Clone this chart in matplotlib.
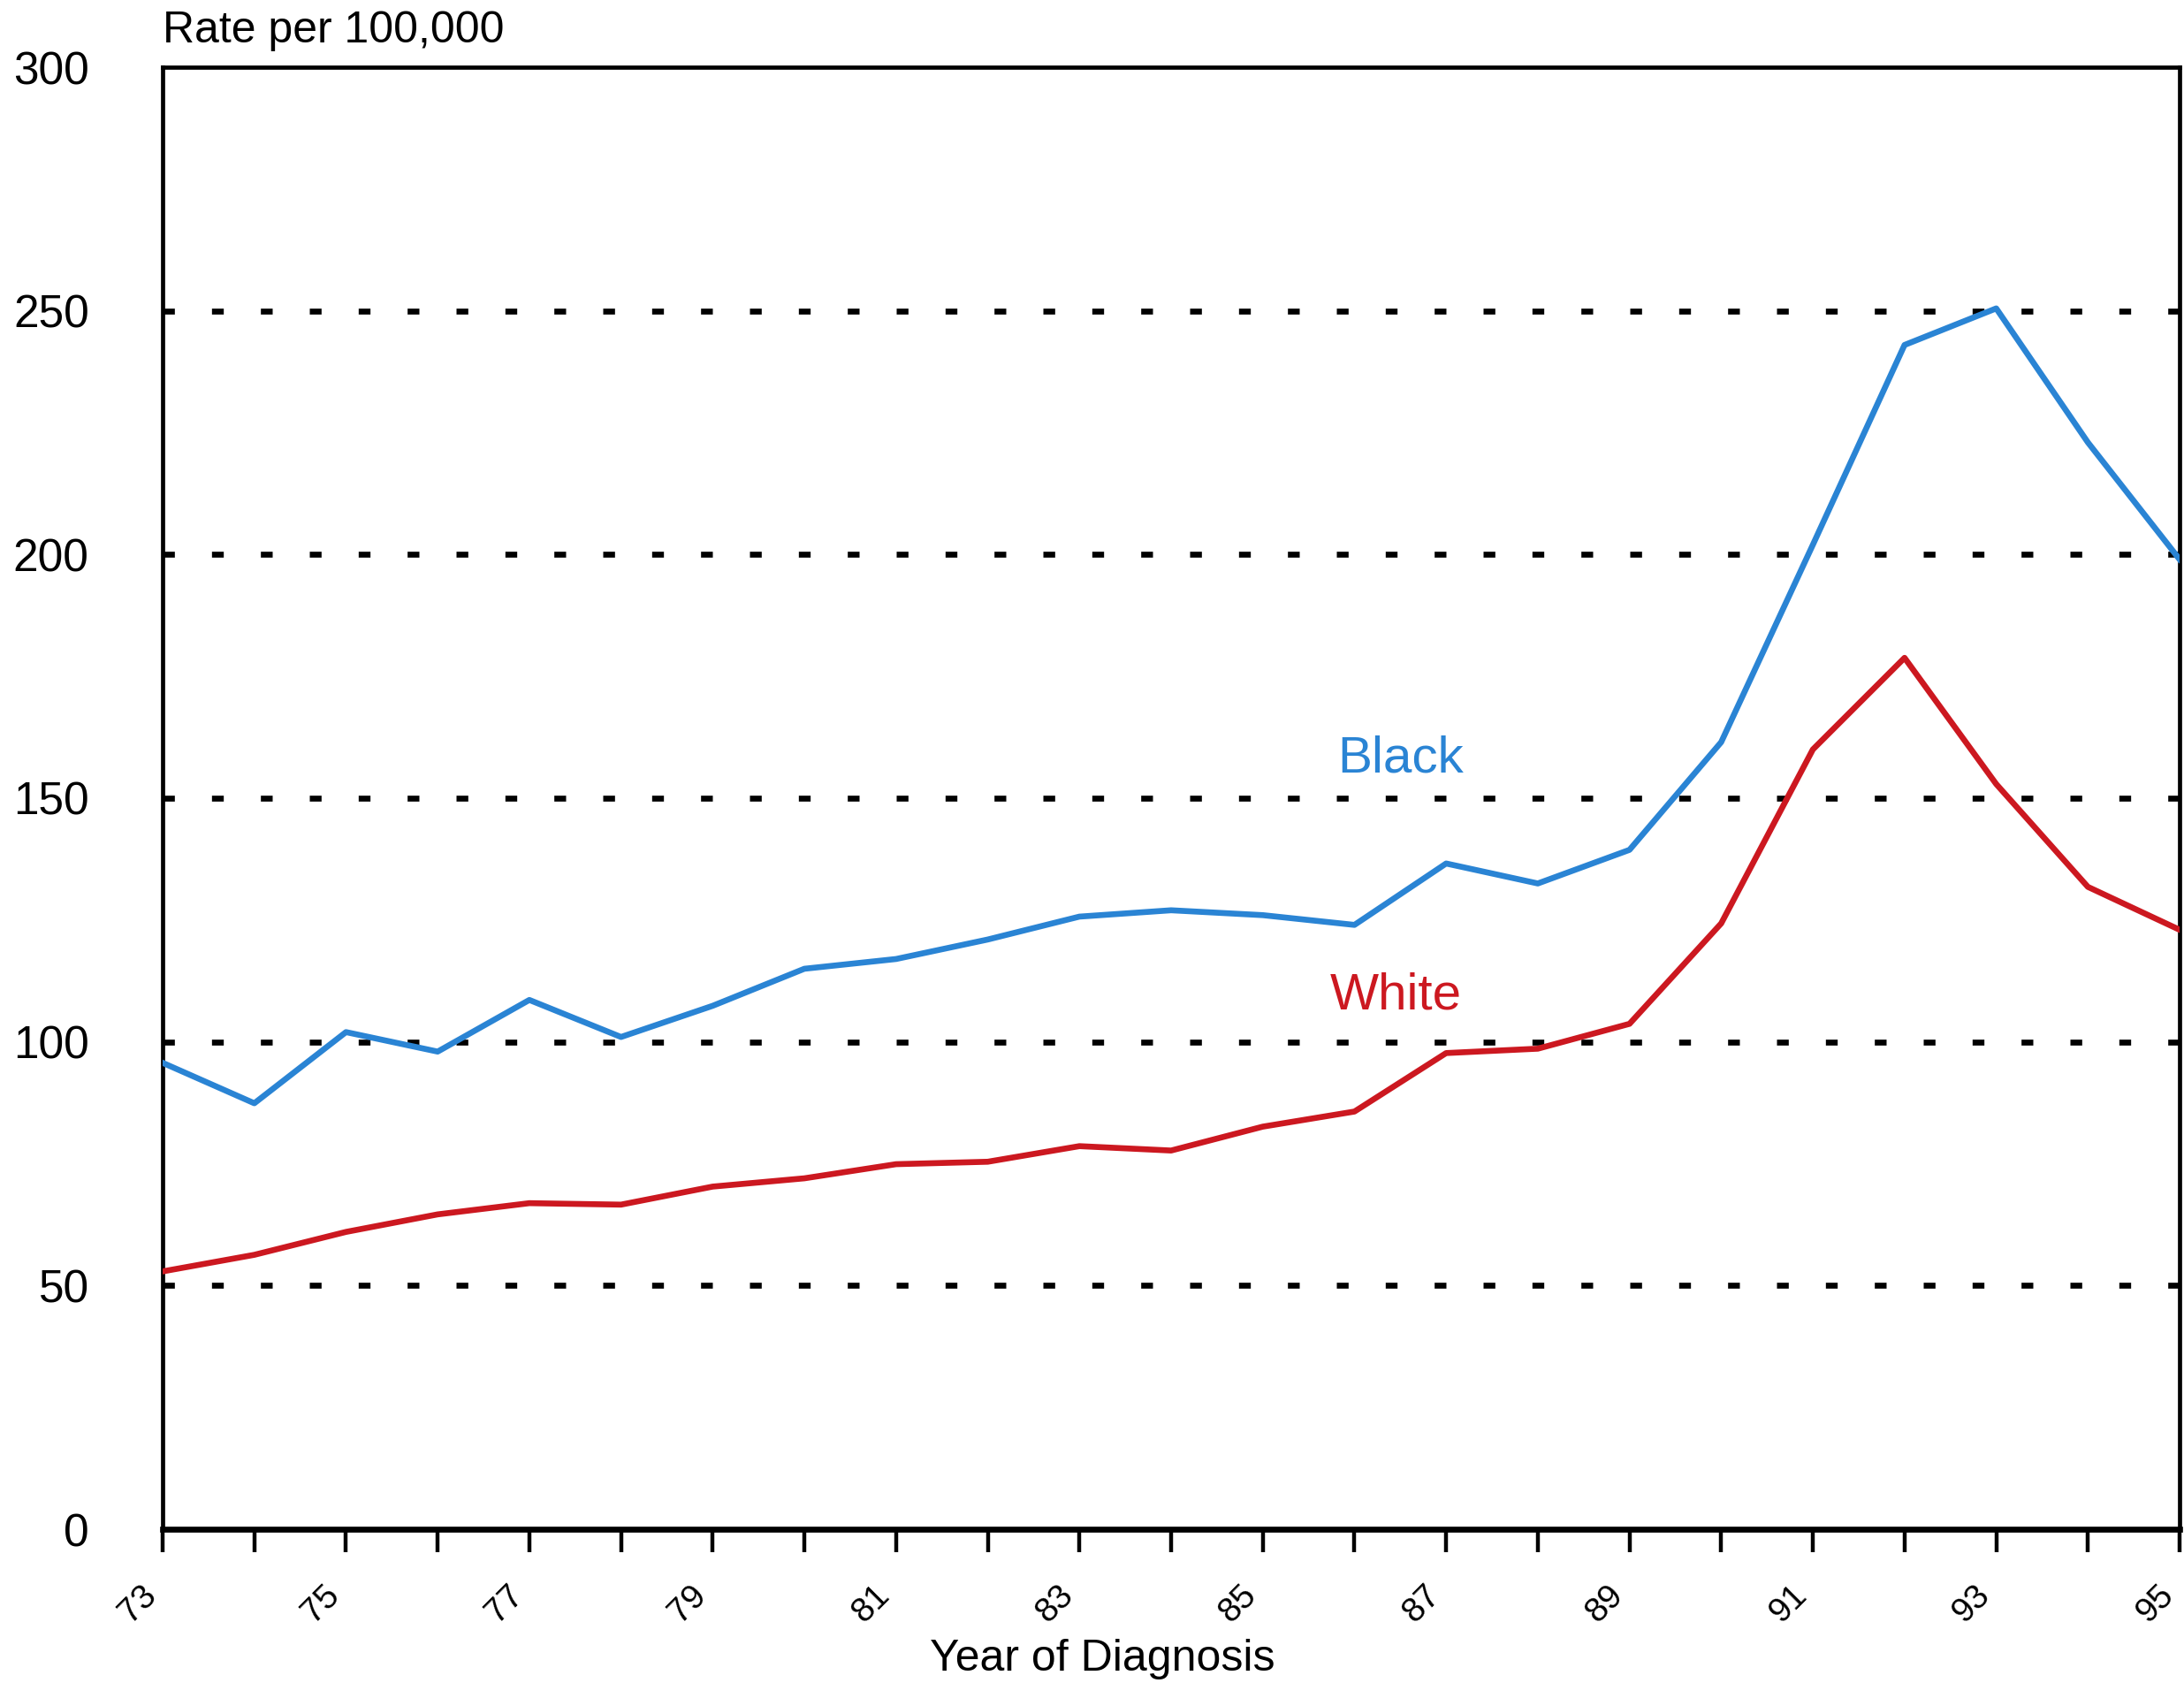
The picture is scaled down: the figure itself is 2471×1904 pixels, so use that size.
import numpy as np
import matplotlib.pyplot as plt

# year of diagnosis (19xx) and incidence rate per 100,000
years = np.arange(73, 96)
black = [95.7, 87.4, 102, 98, 108.6, 101, 107.4, 115, 117, 121, 125.7, 127, 126, 124,
         136.6, 132.5, 139.4, 161.5, 202, 243, 250.5, 223, 199]
white = [52.9, 56.3, 61, 64.6, 66.9, 66.6, 70.3, 72, 74.9, 75.4, 78.6, 77.7, 82.6, 85.7,
         97.7, 98.6, 103.7, 124.3, 160, 178.8, 152.9, 131.8, 123]
yticks = [0, 50, 100, 150, 200, 250, 300]

blue = '#2a84d4'
red = '#cc1820'
narrow = ['Liberation Sans Narrow', 'Liberation Sans', 'DejaVu Sans']

plt.rcParams['font.family'] = ['Liberation Sans', 'DejaVu Sans']

fig = plt.figure(figsize=(24.71, 19.04), dpi=100)
ax = fig.add_axes([184 / 2471, 1 - 1730 / 1904, (2466 - 184) / 2471, (1730 - 76) / 1904])

# dotted reference lines
for y in yticks[1:-1]:
    ax.axhline(y, color='black', lw=4.8, linestyle=(0, (2.0, 6.3)), zorder=1)

ax.plot(years, black, color=blue, lw=4.8, zorder=3)
ax.plot(years, white, color=red, lw=4.8, zorder=3)

ax.text(86.5, 158, 'Black', color=blue, fontsize=42, ha='center', va='center')
ax.text(86.45, 109.5, 'White', color=red, fontsize=42, ha='center', va='center')

ax.set_xlim(73, 95)
ax.set_ylim(0, 300)
ax.set_xticks(years)
ax.set_xticklabels([str(y) if y % 2 == 1 else '' for y in years],
                   rotation=45, ha='right', va='top', fontsize=28, family=narrow)
ax.set_yticks(yticks)
ax.set_yticklabels([str(v) for v in yticks], fontsize=37, family=narrow)
ax.tick_params(axis='x', length=19, width=3.2, pad=22)
ax.tick_params(axis='y', length=0, pad=60)

for side in ['left', 'top', 'right']:
    ax.spines[side].set_linewidth(3.4)
ax.spines['bottom'].set_linewidth(4.8)

# axis titles placed in figure pixels
fig.text(1247 / 2471, 1 - 1890 / 1904, 'Year of Diagnosis', fontsize=36,
         ha='center', va='baseline')
fig.text(184 / 2471, 1 - 35 / 1904, 'Rate per 100,000', fontsize=36, va='center', ha='left')

fig.savefig('out.png', dpi=100, facecolor='white')
